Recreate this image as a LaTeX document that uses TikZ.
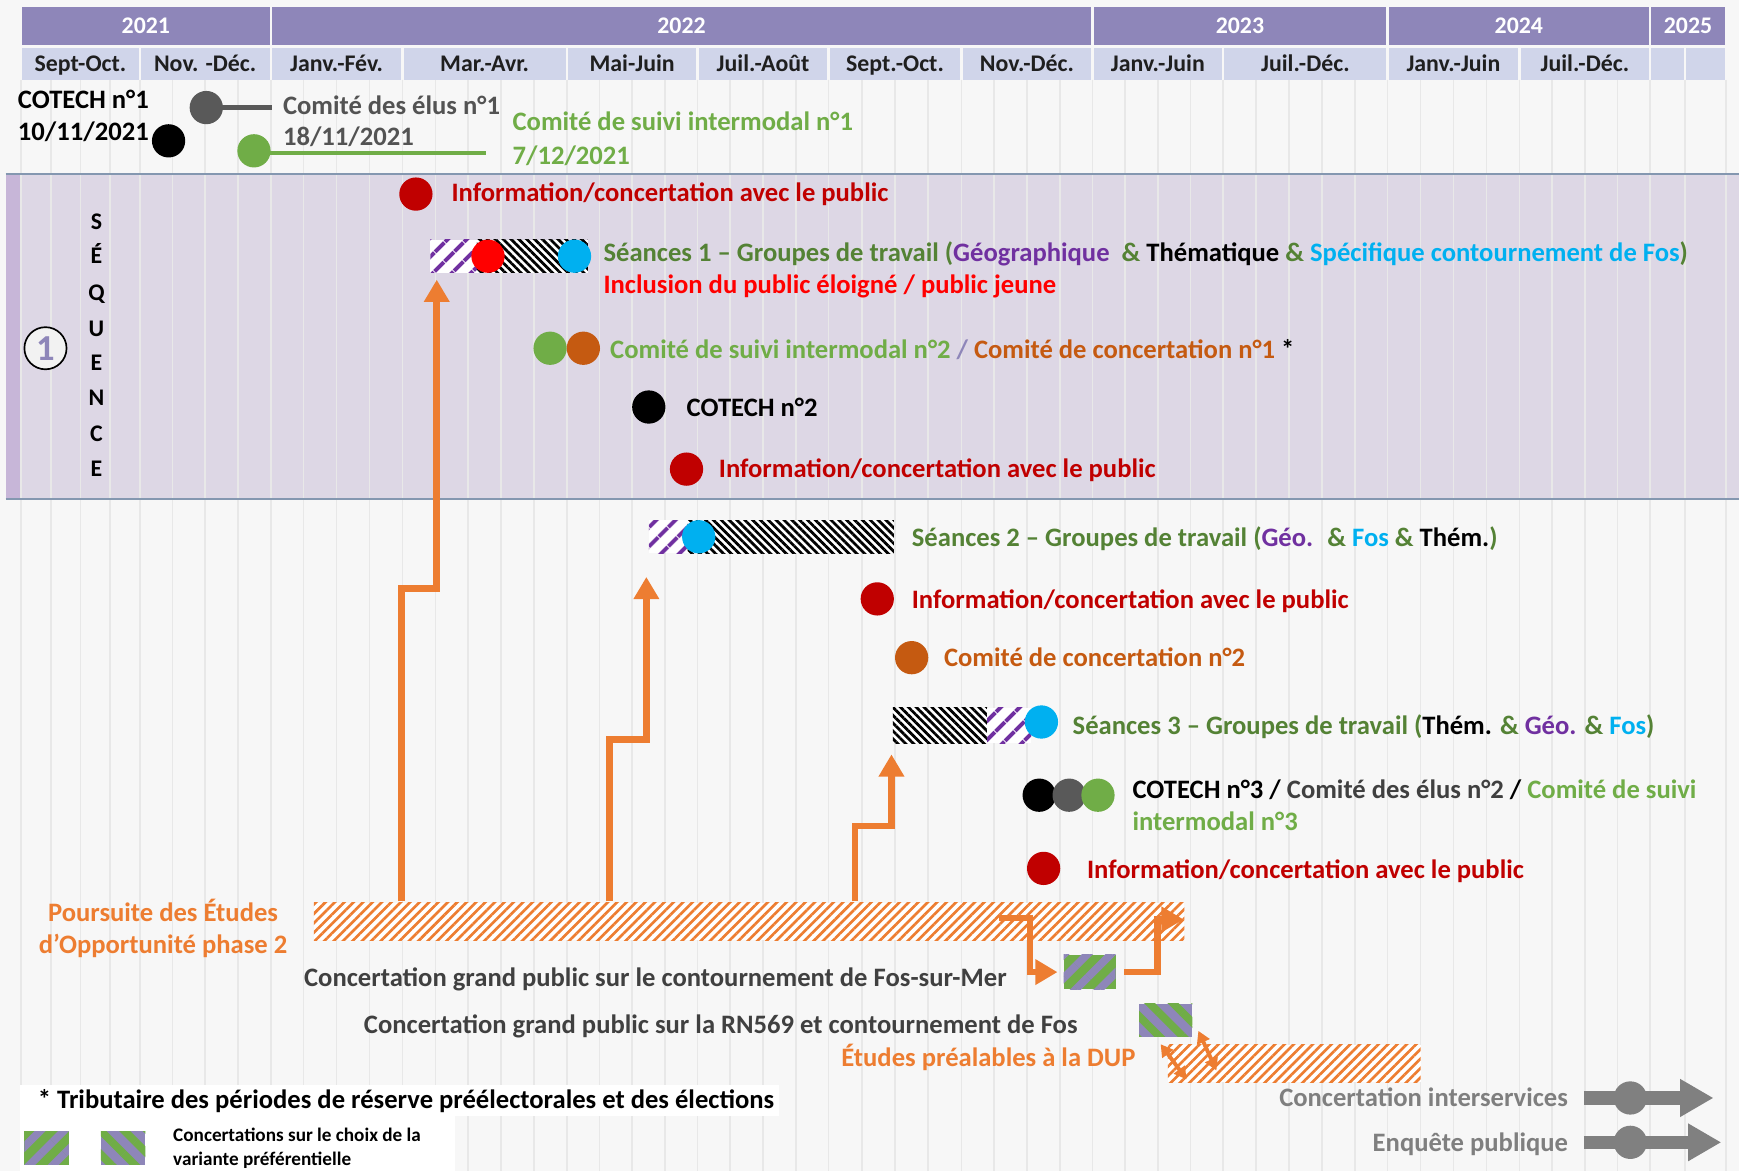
\documentclass[tikz,border=0pt]{standalone}
\usepackage{fontspec}
\setmainfont{Carlito}
\usetikzlibrary{arrows.meta,patterns.meta,calc,fit}
\definecolor{hdrY}{HTML}{8E86B9}
\definecolor{hdrM}{HTML}{D0D5EA}
\definecolor{bgc}{HTML}{F7F7F7}
\definecolor{gridc}{HTML}{E8E8E8}
\definecolor{bandc}{HTML}{DDD7E5}
\definecolor{bandedge}{HTML}{C7B6D8}
\definecolor{bandline}{HTML}{8497B0}
\definecolor{dred}{HTML}{C00000}
\definecolor{bred}{HTML}{FF0000}
\definecolor{cyanc}{HTML}{00B0F0}
\definecolor{lgreen}{HTML}{70AD47}
\definecolor{dgreen}{HTML}{548235}
\definecolor{purp}{HTML}{7030A0}
\definecolor{rust}{HTML}{C55A11}
\definecolor{orng}{HTML}{ED7D31}
\definecolor{dgray}{HTML}{404040}
\definecolor{mgray}{HTML}{595959}
\definecolor{lgray}{HTML}{7F7F7F}
\definecolor{arrg}{HTML}{808080}
\definecolor{lav}{HTML}{8E86B9}
\definecolor{numbg}{HTML}{F2F2F2}
\begin{document}
\begin{tikzpicture}[x=1pt,y=-1pt,
  txt/.style={anchor=west,inner sep=0pt,font=\fontsize{24}{28}\selectfont\bfseries,text height=15.8pt,text depth=0pt},
  hdr/.style={inner sep=0pt,font=\fontsize{21.5}{25}\selectfont\bfseries,text height=14pt,text depth=0pt},
  evt/.style={circle,fill=#1,minimum size=30pt,inner sep=0pt},
  gridline/.style={draw=gridc,line width=1.6pt},
  oarr/.style={draw=orng,line width=6pt,-{Triangle[width=22pt,length=20pt]}},
  dbl/.style={draw=orng,line width=3.5pt,{Triangle[width=12pt,length=11pt]}-{Triangle[width=12pt,length=11pt]}},
  garr/.style={draw=arrg,line width=12pt,-{Triangle[width=32pt,length=30pt]}},
  phatch/.style={preaction={fill=white},pattern={Lines[angle=45,distance=13pt,line width=4pt]},pattern color=purp},
  khatch/.style={preaction={fill=white},pattern={Lines[angle=-45,distance=5pt,line width=2.5pt]},pattern color=black},
  ohatch/.style={preaction={fill=white},pattern={Lines[angle=45,distance=6pt,line width=2.4pt]},pattern color=orng},
  gpA/.style={preaction={fill=lgreen},pattern={Lines[angle=45,distance=15pt,line width=7pt]},pattern color=lav},
  gpB/.style={preaction={fill=lav},pattern={Lines[angle=-45,distance=15pt,line width=7pt]},pattern color=lgreen},
  barbox/.style={inner sep=0pt}
]
\useasboundingbox (0,0) rectangle (1568,1056);
\fill[bgc] (0,0) rectangle (1568,1056);
% sequence band
\fill[bandc] (5,157) rectangle (1568,451);
\fill[bandedge] (5,157) rectangle (18,451);
% grid
\foreach \a/\b/\n in {19/126/4,126/244/4,244/363/4,363/511/5,511/629/4,629/747/4,747/867/4,867/985/4,985/1103/4,1103/1251/5,1251/1370/4,1370/1488/4,1488/1519/1,1519/1556/1}{
  \foreach \k in {0,...,\n}{\draw[gridline] ({\a+(\b-\a)*\k/\n},72) -- ({\a+(\b-\a)*\k/\n},1056);}
}
\draw[bandline,line width=2pt] (5,157) -- (1568,157);
\draw[bandline,line width=2pt] (5,450) -- (1568,450);
% header
\foreach \a/\b/\t in {19/244/2021,244/985/2022,985/1251/2023,1251/1488/2024,1488/1556/2025}{
  \fill[hdrY] (\a+1,6) rectangle (\b-1,41);
  \node[hdr,text=white] (y\t) at ({(\a+\b)/2},23.5) {\t};
}
\foreach \a/\b/\t [count=\i] in {19/126/Sept-Oct.,126/244/Nov. -Déc.,244/363/Janv.-Fév.,363/511/Mar.-Avr.,511/629/Mai-Juin,629/747/Juil.-Août,747/867/Sept.-Oct.,867/985/Nov.-Déc.,985/1103/Janv.-Juin,1103/1251/Juil.-Déc.,1251/1370/Janv.-Juin,1370/1488/Juil.-Déc.,1488/1519/{},1519/1556/{}}{
  \fill[hdrM] (\a+1,43) rectangle (\b-1,72);
  \node[hdr,text=black!88] (m\i) at ({(\a+\b)/2},57.5) {\t};
}
% top events
\node[txt] (cot1a) at (16,90) {COTECH n°1};
\node[txt] (cot1b) at (16,119) {10/11/2021};
\node[evt=black] (cot1) at (152,127) {};
\coordinate (elu1e) at (245,97);
\draw[mgray,line width=4pt] (186,97) -- (elu1e);
\node[evt=mgray] (elu1) at (186,97) {};
\node[txt,text=dgray!90] (elu1a) at (255,95) {Comité des élus n°1};
\node[txt,text=dgray!90] (elu1b) at (255,123) {18/11/2021};
\coordinate (csi1e) at (438,138);
\draw[lgreen,line width=4pt] (229,138) -- (csi1e);
\node[evt=lgreen] (csi1) at (229,136) {};
\node[txt,text=lgreen] (csi1a) at (462,110) {Comité de suivi intermodal n°1};
\node[txt,text=lgreen] (csi1b) at (462,140) {7/12/2021};
% sequence label
\node[circle,draw=black,line width=1.5pt,fill=numbg,minimum size=38pt,inner sep=0pt,text=lav,font=\fontsize{33}{34}\selectfont\bfseries] (seqnum) at (41,314) {1};
\foreach \l/\yy [count=\i] in {S/200,É/231,Q/264,U/296,E/327,N/359,C/391,E/423}{
  \node[hdr,text=black] (q\i) at (87,\yy) {\l};
}
% band events
\node[evt=dred] (info1) at (375,175) {};
\node[txt,text=dred] (info1t) at (407,174) {Information/concertation avec le public};
\node[barbox,fit={(388,216) (530,246)}] (s1) {};
\fill[phatch] (388,216) rectangle (430,246);
\fill[khatch] (430,216) rectangle (530,246);
\node[evt=bred] (s1r) at (440,231) {};
\node[evt=cyanc] (s1b) at (518,231) {};
\node[txt,text=dgreen] (s1t) at (544,228) {Séances 1 – Groupes de travail (\textcolor{purp}{Géographique}~ \& \textcolor{black}{Thématique} \& \textcolor{cyanc}{Spécifique contournement de Fos})};
\node[txt,text=bred] (s1t2) at (544,257) {Inclusion du public éloigné / public jeune};
\node[evt=lgreen] (csi2) at (496,314) {};
\node[evt=rust] (cc1) at (526,314) {};
\node[txt,text=lgreen] (csi2t) at (550,315) {Comité de suivi intermodal n°2 \textcolor{lav}{/} \textcolor{rust}{Comité de concertation n°1} \textcolor{black}{*}};
\node[evt=black] (cot2) at (585,367) {};
\node[txt] (cot2t) at (619,368) {COTECH n°2};
\node[evt=dred] (info2) at (619,423) {};
\node[txt,text=dred] (info2t) at (648,423) {Information/concertation avec le public};
% lower events
\node[barbox,fit={(585,469) (806,499)}] (s2) {};
\fill[phatch] (585,469) rectangle (620,499);
\fill[khatch] (620,469) rectangle (806,499);
\node[evt=cyanc] (s2b) at (630,484) {};
\node[txt,text=dgreen] (s2t) at (822,485) {Séances 2 – Groupes de travail (\textcolor{purp}{Géo.}~ \& \textcolor{cyanc}{Fos} \& \textcolor{black}{Thém.})};
\node[evt=dred] (info3) at (791,540) {};
\node[txt,text=dred] (info3t) at (822,541) {Information/concertation avec le public};
\node[evt=rust] (cc2) at (822,593) {};
\node[txt,text=rust] (cc2t) at (851,593) {Comité de concertation n°2};
\node[barbox,fit={(805,638) (930,670)}] (s3) {};
\fill[khatch] (805,638) rectangle (890,670);
\fill[phatch] (890,638) rectangle (930,670);
\node[evt=cyanc] (s3b) at (939,651) {};
\node[txt,text=dgreen] (s3t) at (967,654) {Séances 3 – Groupes de travail (\textcolor{black}{Thém.} \& \textcolor{purp}{Géo.} \& \textcolor{cyanc}{Fos})};
\node[evt=black] (cot3) at (937,717) {};
\node[evt=mgray] (elu2) at (964,717) {};
\node[evt=lgreen] (csi3) at (990,717) {};
\node[txt] (cot3t) at (1021,712) {COTECH n°3 / \textcolor{dgray}{Comité des élus n°2} / \textcolor{lgreen}{Comité de suivi}};
\node[txt,text=lgreen] (cot3t2) at (1021,741) {intermodal n°3};
\node[evt=dred] (info4) at (941,783) {};
\node[txt,text=dred] (info4t) at (980,784) {Information/concertation avec le public};
% orange studies
\node[barbox,ohatch,fit={(283,814) (1068,848)}] (eo) {};
\node[txt,anchor=center,text=orng] (eot1) at (147,823) {Poursuite des Études};
\node[txt,anchor=center,text=orng] (eot2) at (147,852) {d’Opportunité phase 2};
\node[barbox,gpA,fit={(959,861) (1006,892)}] (ba) {};
\node[barbox,gpB,fit={(1027,905) (1075,935)}] (bb) {};
\node[barbox,ohatch,fit={(1053,942) (1281,976)}] (dup) {};
\node[txt,text=dgray] (cgp1) at (274,882) {Concertation grand public sur le contournement de Fos-sur-Mer};
\node[txt,text=dgray] (cgp2) at (328,924) {Concertation grand public sur la RN569 et contournement de Fos};
\node[txt,anchor=east,text=orng] (dupt) at (1024,954) {Études préalables à la DUP};
% orange arrows
\draw[oarr] ($(eo.north west)+(80,0)$) -- ++(0,-282) -| ($(s1.south west)+(6,6)$);
\draw[oarr] ($(eo.north west)+(268,0)$) -- ++(0,-146) -| ($(s2.south west)+(-2,21)$);
\draw[oarr] ($(eo.north west)+(489,0)$) -- ++(0,-68) -| ($(s3.south west)+(-1,10)$);
\draw[oarr] ($(eo.north west)+(619,15)$) -- ++(28,0) |- ($(ba.west)+(-2,0)$);
\draw[oarr] ($(ba.east)+(4,0)$) -- ++(30,0) |- ($(eo.east)+(-2,-2)$);
\draw[dbl] ($(bb.south west)+(23,3)$) -- ($(dup.south west)+(17,-3)$);
\draw[dbl] ($(bb.south east)+(2,-9)$) -- ($(dup.south west)+(44,-11)$);
% bottom right
\node[txt,anchor=east,text=lgray] (ci) at (1414,990) {Concertation interservices};
\coordinate (ciend) at (1545,990);
\draw[garr] ($(ci.east)+(14,0)$) -- (ciend);
\node[evt=arrg] (cic) at (1470,990) {};
\node[txt,anchor=east,text=lgray] (ep) at (1414,1030) {Enquête publique};
\coordinate (epend) at (1552,1030);
\draw[garr] ($(ep.east)+(14,0)$) -- (epend);
\node[evt=arrg] (epc) at (1470,1030) {};
% legend
\fill[white] (18,978) rectangle (702,1006);
\fill[white] (18,1006) rectangle (410,1056);
\node[txt] (trib) at (34,992) {* Tributaire des périodes de réserve préélectorales et des élections};
\node[barbox,gpA,fit={(22,1020) (62,1050)}] (lgA) {};
\node[barbox,gpB,fit={(91,1020) (131,1050)}] (lgB) {};
\node[txt,font=\fontsize{17.3}{20}\selectfont\bfseries,text height=11.3pt] (lgt1) at (156,1024) {Concertations sur le choix de la};
\node[txt,font=\fontsize{17.3}{20}\selectfont\bfseries,text height=11.3pt] (lgt2) at (156,1045) {variante préférentielle};
\end{tikzpicture}
\end{document}
